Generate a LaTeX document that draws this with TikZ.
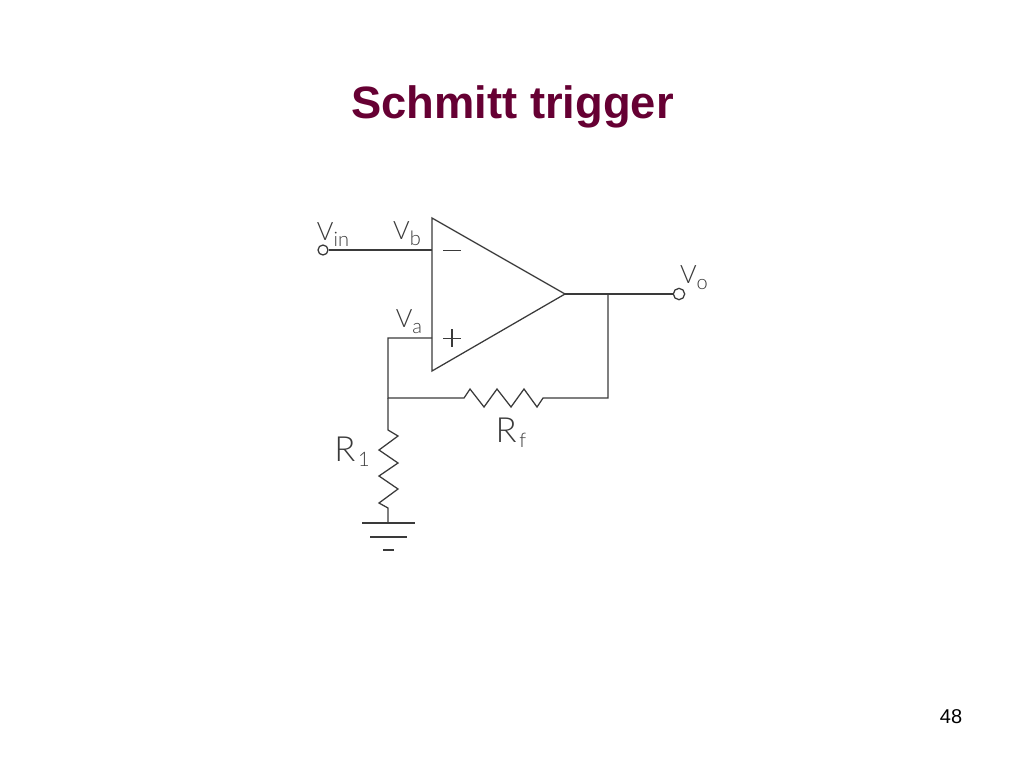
\documentclass[tikz,border=0pt]{standalone}
\usepackage{fontspec}
\setmainfont{Liberation Sans}
\newfontfamily\labelfont{Lato Light}
\definecolor{titlecol}{HTML}{660033}
\definecolor{wirecol}{HTML}{3A3A3A}
\newcommand{\VSub}[4]{{\fontsize{#2}{#2}\selectfont V}\kern#4\raisebox{-4.5pt}{\fontsize{#3}{#3}\selectfont #1}}
\tikzset{
  wire/.style={draw=wirecol,line width=0.95pt,line join=miter},
  circuitlabel/.style={inner sep=0pt,text=wirecol,font=\labelfont},
  terminal/.style={circle,draw=wirecol,line width=0.95pt,fill=white,inner sep=0pt,minimum size=8.5pt},
  pt/.style={coordinate}
}
\begin{document}
\begin{tikzpicture}[x=0.75pt,y=-0.75pt]
\useasboundingbox (0,0) rectangle (1024,768);
\node[inner sep=0pt,text=titlecol,font=\fontsize{34}{34}\selectfont\bfseries] (title) at (512.5,106.5) {Schmitt trigger};
\node[inner sep=0pt,text=black,font=\fontsize{15}{15}\selectfont] (page) at (951,717) {48};

\coordinate (ta) at (432,218);
\coordinate (tb) at (432,371);
\coordinate (out) at (565,294);
\draw[wire] (ta) -- (tb) -- (out) -- cycle;

\node[terminal,minimum size=7.5pt] (vin) at (323,250) {};
\node[terminal] (vo) at (679,294) {};
\coordinate (invm) at (432,250);
\coordinate (invp) at (432,338);
\coordinate (corner) at (388,338);
\coordinate (junc) at (388,398);
\coordinate (fbtap) at (608,294);
\coordinate (fbcorner) at (608,398);
\coordinate (gnd1) at (388,523);
\draw[wire] (vin) -- (invm);
\draw[wire] (out) -- (vo);
\draw[wire] (invp) -- (corner) -- (junc)
  -- (464,398) -- (470,389) -- (484,407) -- (497,389) -- (511,407) -- (524,389) -- (537,407) -- (543,398)
  -- (fbcorner) -- (fbtap);
\draw[wire] (junc) -- (388,430) -- (398,436) -- (379,450) -- (398,463) -- (379,476) -- (398,489) -- (379,503) -- (388,508) -- (gnd1);

\draw[wire] (362,523) -- (415,523);
\draw[wire] (370,537) -- (407,537);
\draw[wire] (383,550) -- (394,550);

\draw[wire] (443,250.5) -- (461,250.5);
\draw[wire] (443,338.5) -- (461,338.5);
\draw[wire] (452,329) -- (452,347);

\node[circuitlabel] (lvin) at (333,235) {\VSub{in}{19}{15}{0pt}};
\node[circuitlabel] (lvb) at (407,234) {\VSub{b}{19}{15}{0pt}};
\node[circuitlabel] (lva) at (409,322) {\VSub{a}{19}{15}{0pt}};
\node[circuitlabel] (lvo) at (694,278) {\VSub{o}{19}{15}{0pt}};
\node[circuitlabel] (lrf) at (511,433) {{\fontsize{26}{26}\selectfont R}\kern2pt\raisebox{-4pt}{\fontsize{15}{15}\selectfont f}};
\node[circuitlabel] (lr1) at (352,452) {{\fontsize{26}{26}\selectfont R}\kern2pt\raisebox{-4pt}{\fontsize{15}{15}\selectfont 1}};
\end{tikzpicture}
\end{document}
